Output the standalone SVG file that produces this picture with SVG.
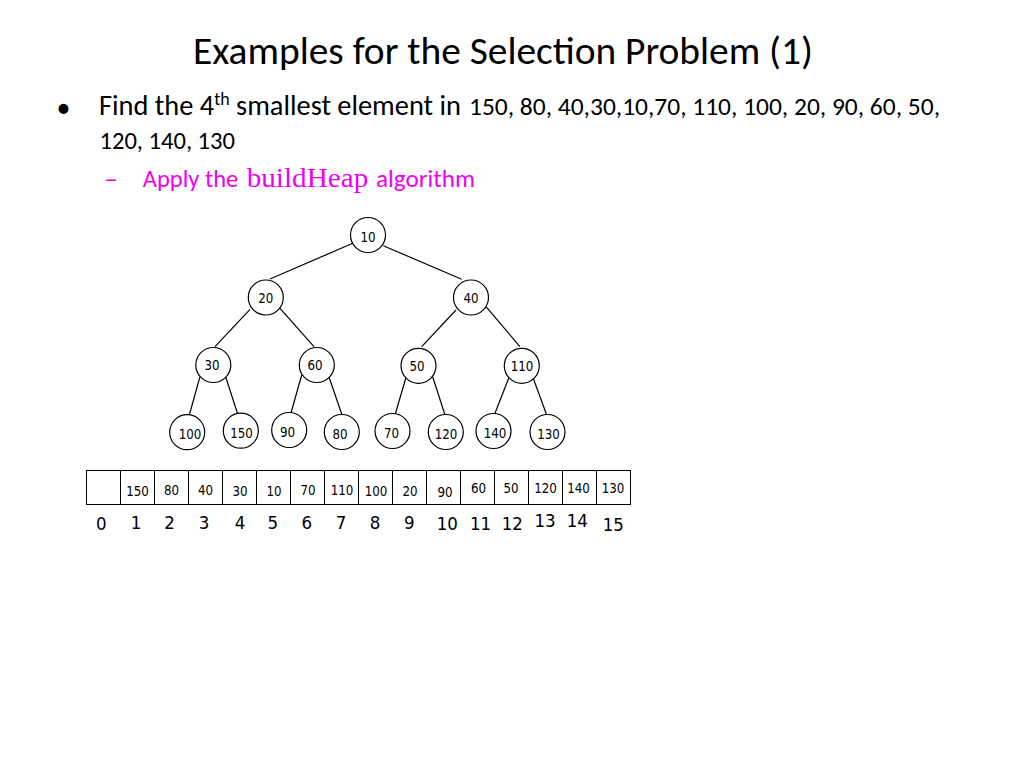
<svg xmlns="http://www.w3.org/2000/svg" width="1024" height="768" viewBox="0 0 1024 768">
<style>
.bg{fill:#ffffff}
.ttl{font-family:Carlito,"Open Sans","Noto Sans",sans-serif;font-size:39.5px;fill:#000}
.body{font-family:Carlito,"Open Sans","Noto Sans",sans-serif;fill:#000}
.mag{fill:#f000f0}
.ser{font-family:"Liberation Serif","DejaVu Serif",serif}
.node circle{fill:#fff;stroke:#000;stroke-width:1.2}
.node text,.cell text{font-family:"DejaVu Sans Condensed","DejaVu Sans",sans-serif;font-size:13.2px;fill:#000;text-anchor:middle}
.edges line{stroke:#000;stroke-width:1.2}
.cell rect{fill:#fff;stroke:#000;stroke-width:1}
.idx text{font-family:"DejaVu Sans Condensed","DejaVu Sans",sans-serif;font-size:18.5px;fill:#000;text-anchor:middle}
</style>
<rect class="bg" x="0" y="0" width="1024" height="768"/>
<text class="ttl" x="193" y="63.5" textLength="620" lengthAdjust="spacingAndGlyphs">Examples for the Selection Problem (1)</text>
<text class="body" x="63.5" y="117" font-size="28" text-anchor="middle">•</text>
<text class="body" x="99" y="114.5" font-size="28.4">Find the 4<tspan font-size="18" dy="-9.5">th</tspan><tspan dy="9.5"> smallest element in</tspan></text>
<text class="body" x="469" y="114.5" font-size="25.5" textLength="471" lengthAdjust="spacingAndGlyphs">150, 80, 40,30,10,70, 110, 100, 20, 90, 60, 50,</text>
<text class="body" x="99.5" y="148.5" font-size="25" textLength="135.5" lengthAdjust="spacingAndGlyphs">120, 140, 130</text>
<text class="body mag" x="104" y="186.5" font-size="25.5" textLength="14" lengthAdjust="spacingAndGlyphs">–</text>
<text class="body mag" x="142.7" y="186.5" font-size="25.5" textLength="95.6" lengthAdjust="spacingAndGlyphs">Apply the</text>
<text class="ser mag" x="246.7" y="186.5" font-size="27" textLength="121.6" lengthAdjust="spacingAndGlyphs">buildHeap</text>
<text class="body mag" x="376" y="186.5" font-size="25.5" textLength="99" lengthAdjust="spacingAndGlyphs">algorithm</text>

<g id="connectors" class="edges">
<line x1="352.7" y1="243.3" x2="270" y2="279" stroke-width="2"/>
<line x1="383.3" y1="245.7" x2="461.7" y2="279.3"/>
<line x1="250" y1="309.3" x2="215" y2="346.7"/>
<line x1="280" y1="308.3" x2="314" y2="346.7"/>
<line x1="456" y1="310" x2="421.7" y2="346.7"/>
<line x1="486" y1="306.7" x2="520" y2="346.7"/>
<line x1="200" y1="376.7" x2="189.3" y2="415"/>
<line x1="224" y1="371.7" x2="237.7" y2="414"/>
<line x1="301.7" y1="375" x2="290.7" y2="414"/>
<line x1="328.3" y1="375" x2="341.7" y2="414"/>
<line x1="406.7" y1="375" x2="395" y2="415"/>
<line x1="432.7" y1="376.7" x2="445" y2="415"/>
<line x1="509.3" y1="376.7" x2="494.3" y2="415"/>
<line x1="532.7" y1="376.7" x2="546.7" y2="415"/>
</g>

<g id="n10" class="node"><circle cx="368" cy="235" r="17.5"/><text x="368" y="241.5">10</text></g>
<g id="n20" class="node"><circle cx="265.8" cy="297.5" r="17.5"/><text x="265.8" y="302.5">20</text></g>
<g id="n40" class="node"><circle cx="471" cy="297.5" r="17.5"/><text x="471" y="302.5">40</text></g>
<g id="n30" class="node"><circle cx="213.3" cy="365" r="17.5"/><text x="212" y="370">30</text></g>
<g id="n60" class="node"><circle cx="316.8" cy="365" r="17.5"/><text x="315" y="370">60</text></g>
<g id="n50" class="node"><circle cx="418.5" cy="365.8" r="17.5"/><text x="417" y="370.8">50</text></g>
<g id="n110" class="node"><circle cx="521.8" cy="365.8" r="17.5"/><text x="522" y="370.8">110</text></g>
<g id="n100" class="node"><circle cx="187.2" cy="432.2" r="17.5"/><text x="190" y="439">100</text></g>
<g id="n150" class="node"><circle cx="240.8" cy="430.7" r="17.5"/><text x="241.5" y="438">150</text></g>
<g id="n90" class="node"><circle cx="289.2" cy="430" r="17.5"/><text x="287.5" y="437">90</text></g>
<g id="n80" class="node"><circle cx="341.8" cy="432" r="17.5"/><text x="340" y="439">80</text></g>
<g id="n70" class="node"><circle cx="392.5" cy="431" r="17.5"/><text x="391.5" y="437.5">70</text></g>
<g id="n120" class="node"><circle cx="445.8" cy="432" r="17.5"/><text x="446" y="439">120</text></g>
<g id="n140" class="node"><circle cx="493.5" cy="431" r="17.5"/><text x="495" y="438">140</text></g>
<g id="n130" class="node"><circle cx="547.5" cy="432" r="17.5"/><text x="548.5" y="439">130</text></g>

<g id="array" class="cell">
<rect x="86.5" y="470.5" width="34" height="34"/>
<rect x="120.5" y="470.5" width="34" height="34"/><text x="137.5" y="496">150</text>
<rect x="154.5" y="470.5" width="34" height="34"/><text x="171.5" y="495">80</text>
<rect x="188.5" y="470.5" width="34" height="34"/><text x="205.5" y="495">40</text>
<rect x="222.5" y="470.5" width="34" height="34"/><text x="240" y="496">30</text>
<rect x="256.5" y="470.5" width="34" height="34"/><text x="274" y="495.5">10</text>
<rect x="290.5" y="470.5" width="34" height="34"/><text x="308" y="495">70</text>
<rect x="324.5" y="470.5" width="34" height="34"/><text x="342" y="495">110</text>
<rect x="358.5" y="470.5" width="34" height="34"/><text x="376" y="496">100</text>
<rect x="392.5" y="470.5" width="34" height="34"/><text x="410" y="496">20</text>
<rect x="426.5" y="470.5" width="34" height="34"/><text x="445" y="496.5">90</text>
<rect x="460.5" y="470.5" width="34" height="34"/><text x="478.5" y="492.7">60</text>
<rect x="494.5" y="470.5" width="34" height="34"/><text x="511" y="492.7">50</text>
<rect x="528.5" y="470.5" width="34" height="34"/><text x="545.5" y="492.7">120</text>
<rect x="562.5" y="470.5" width="34" height="34"/><text x="578.5" y="492.7">140</text>
<rect x="596.5" y="470.5" width="34" height="34"/><text x="613" y="493.3">130</text>
</g>

<g id="indices" class="idx">
<text x="101.3" y="530">0</text>
<text x="136" y="529">1</text>
<text x="169.5" y="529">2</text>
<text x="204" y="529">3</text>
<text x="240" y="529">4</text>
<text x="272.7" y="529">5</text>
<text x="306.7" y="529">6</text>
<text x="341" y="529">7</text>
<text x="375" y="529">8</text>
<text x="409.3" y="529">9</text>
<text x="447.3" y="530">10</text>
<text x="480.5" y="530">11</text>
<text x="512.3" y="530">12</text>
<text x="545" y="527.2">13</text>
<text x="577.3" y="527.2">14</text>
<text x="613.3" y="530.5">15</text>
</g>
</svg>
